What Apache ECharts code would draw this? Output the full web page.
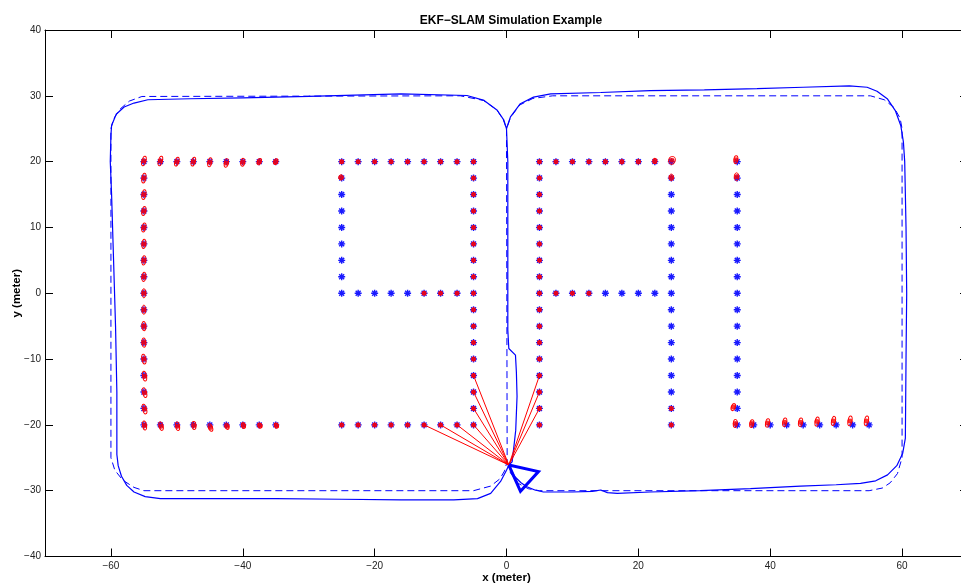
<!DOCTYPE html>
<html lang="en">
<head>
  <meta charset="UTF-8">
  <title>EKF-SLAM Simulation Example</title>
  <script src="https://cdn.jsdelivr.net/npm/echarts@6/dist/echarts.min.js"></script>
  <style>
    html, body { margin: 0; padding: 0; background: #fff; }
    #chart { width: 961px; height: 587px; }
  </style>
</head>
<body>
  <div id="chart"></div>
  <script>
    // 刻度
    const xTicks = [-60, -40, -20, 0, 20, 40, 60]

    // 真实轨迹 (虚线)
    const truePath = [
      [0.1, -25.5], [0.6, -27.3], [1.8, -28.9], [3.3, -29.7], [5, -30], [55, -30], [57, -29.6], [58.2, -28.8],
      [59.3, -27.4], [60, -25], [60, 25], [59.7, 26.6], [58.8, 28.2], [57.3, 29.4], [55.2, 30], [7, 30],
      [4, 29.6], [2, 28.6], [0.6, 26.7], [0, 25], [0.1, -25.5], [-0.3, -27], [-1, -28.2], [-2.4, -29.3],
      [-5, -30], [-55, -30], [-56.5, -29.5], [-58.2, -28.4], [-59.4, -26.9], [-60, -25], [-60, 25],
      [-59.6, 26.5], [-58.6, 28], [-57.2, 29.2], [-55.3, 29.9], [-7, 30], [-3.5, 29.3], [-1.5, 27.9],
      [-0.5, 26.4], [0, 25]
    ]

    // 估计轨迹 (实线)
    const estPath = [
      [0.35, -26.1], [1.2, -27.8], [2.2, -28.8], [3.1, -29.4], [4.3, -29.9], [5.6, -30.2], [10, -30.2],
      [13, -30.1], [14.3, -29.9], [15.3, -30.3], [16.8, -30.4], [21.8, -30.2], [29.4, -30.0], [37, -29.7],
      [44.6, -29.3], [50, -29.1], [53.7, -28.9], [56, -28.5], [57.8, -27.6], [59.2, -26.2], [60.1, -24.3],
      [60.5, -22], [60.6, -10], [60.7, 0], [60.6, 10], [60.4, 20], [60.2, 23], [59.8, 25.5], [59, 27.7],
      [57.8, 29.5], [56.2, 30.7], [54.7, 31.3], [52, 31.5], [45, 31.3], [38, 31.1], [30, 30.9], [21.8, 30.8],
      [14.3, 30.5], [6.7, 30.3], [4.1, 29.8], [2.1, 28.8], [0.6, 26.8], [0, 25],
      [0.2, 20], [0.2, 10], [0.2, 0], [0.2, -5.6], [0.35, -8.4], [1.36, -9.4], [1.5, -12], [1.6, -15.7],
      [1.4, -20.8], [1.1, -23.5], [0.86, -25.6], [0.35, -26.1],
      [0, -26.9], [-0.9, -28.6], [-2.4, -30.4], [-4.4, -31.2], [-8, -31.4], [-16, -31.4], [-25, -31.3],
      [-35, -31.2], [-45, -31.2], [-52.5, -31.2], [-54.8, -30.9], [-56.5, -30.2], [-57.6, -29.2],
      [-58.4, -27.8], [-58.9, -26.2], [-59.1, -24.5], [-59.1, -15], [-59.3, -5], [-59.6, 5], [-59.9, 15],
      [-60.1, 20], [-60, 24], [-59.9, 25.5], [-59.2, 27.2], [-58, 28.3], [-56.5, 28.9], [-54.4, 29.4],
      [-48, 29.55], [-40, 29.7], [-30, 29.9], [-16, 30.3], [-6, 30.05], [-3.4, 29.3], [-1.4, 27.8],
      [-0.4, 26.3], [0, 25]
    ]

    // 真实路标
    const trueLandmarks = [
      // C
      [-55, 20], [-52.5, 20], [-50, 20], [-47.5, 20], [-45, 20], [-42.5, 20], [-40, 20], [-37.5, 20], [-35, 20],
      [-55, 17.5], [-55, 15], [-55, 12.5], [-55, 10], [-55, 7.5], [-55, 5], [-55, 2.5], [-55, 0],
      [-55, -2.5], [-55, -5], [-55, -7.5], [-55, -10], [-55, -12.5], [-55, -15], [-55, -17.5], [-55, -20],
      [-52.5, -20], [-50, -20], [-47.5, -20], [-45, -20], [-42.5, -20], [-40, -20], [-37.5, -20], [-35, -20],
      // 9
      [-25, 20], [-22.5, 20], [-20, 20], [-17.5, 20], [-15, 20], [-12.5, 20], [-10, 20], [-7.5, 20], [-5, 20],
      [-25, 17.5], [-25, 15], [-25, 12.5], [-25, 10], [-25, 7.5], [-25, 5], [-25, 2.5], [-25, 0],
      [-22.5, 0], [-20, 0], [-17.5, 0], [-15, 0], [-12.5, 0], [-10, 0], [-7.5, 0],
      [-5, 17.5], [-5, 15], [-5, 12.5], [-5, 10], [-5, 7.5], [-5, 5], [-5, 2.5], [-5, 0],
      [-5, -2.5], [-5, -5], [-5, -7.5], [-5, -10], [-5, -12.5], [-5, -15], [-5, -17.5], [-5, -20],
      [-25, -20], [-22.5, -20], [-20, -20], [-17.5, -20], [-15, -20], [-12.5, -20], [-10, -20], [-7.5, -20],
      // A
      [5, 20], [7.5, 20], [10, 20], [12.5, 20], [15, 20], [17.5, 20], [20, 20], [22.5, 20], [25, 20],
      [5, 17.5], [5, 15], [5, 12.5], [5, 10], [5, 7.5], [5, 5], [5, 2.5], [5, 0],
      [5, -2.5], [5, -5], [5, -7.5], [5, -10], [5, -12.5], [5, -15], [5, -17.5], [5, -20],
      [25, 17.5], [25, 15], [25, 12.5], [25, 10], [25, 7.5], [25, 5], [25, 2.5], [25, 0],
      [25, -2.5], [25, -5], [25, -7.5], [25, -10], [25, -12.5], [25, -15], [25, -17.5], [25, -20],
      [7.5, 0], [10, 0], [12.5, 0], [15, 0], [17.5, 0], [20, 0], [22.5, 0],
      // L
      [35, 20], [35, 17.5], [35, 15], [35, 12.5], [35, 10], [35, 7.5], [35, 5], [35, 2.5], [35, 0],
      [35, -2.5], [35, -5], [35, -7.5], [35, -10], [35, -12.5], [35, -15], [35, -17.5], [35, -20],
      [37.5, -20], [40, -20], [42.5, -20], [45, -20], [47.5, -20], [50, -20], [52.5, -20], [55, -20]
    ]

    // 估计路标 [x, y, 椭圆半轴x, 椭圆半轴y, 倾角]
    const estLandmarks = [
      // C
      [-55, 20.1, 0.3, 0.75, 15], [-52.5, 20.1, 0.3, 0.75, 15], [-50, 20, 0.3, 0.7, 15], [-47.5, 20, 0.3, 0.7, 15],
      [-45, 19.9, 0.3, 0.7, 10], [-42.5, 19.8, 0.3, 0.65, 10], [-40, 19.9, 0.3, 0.6, 10], [-37.5, 20, 0.3, 0.5, 20],
      [-35, 20, 0.3, 0.45, 20],
      [-55, 17.5, 0.3, 0.75, 10], [-55, 15, 0.3, 0.75, 10], [-55, 12.5, 0.3, 0.7, 10], [-55, 10, 0.3, 0.7, 10],
      [-55, 7.5, 0.3, 0.7, 5], [-55, 5, 0.3, 0.7, 5], [-55, 2.5, 0.3, 0.7, 5], [-55, 0, 0.3, 0.7, 0],
      [-55, -2.5, 0.3, 0.7, 0], [-55, -5, 0.3, 0.7, -5], [-55, -7.5, 0.3, 0.7, -5], [-55, -10, 0.3, 0.75, -10],
      [-54.9, -12.6, 0.3, 0.75, -10], [-54.9, -15.1, 0.3, 0.75, -15], [-54.9, -17.6, 0.3, 0.75, -15],
      [-54.9, -20.1, 0.3, 0.7, -10],
      [-52.4, -20.2, 0.3, 0.65, -15], [-49.9, -20.2, 0.3, 0.65, -10], [-47.4, -20.1, 0.3, 0.6, -5],
      [-44.9, -20.4, 0.3, 0.6, -20], [-42.4, -20.2, 0.3, 0.5, -20], [-39.9, -20.1, 0.3, 0.45, -20],
      [-37.4, -20.1, 0.3, 0.4, -20], [-34.9, -20.1, 0.3, 0.4, -20],
      // 9
      [-25, 20, 0.2, 0.3, 0], [-22.5, 20, 0.2, 0.3, 0], [-20, 20, 0.2, 0.3, 0], [-17.5, 20, 0.2, 0.3, 0],
      [-15, 20, 0.2, 0.3, 0], [-12.5, 20, 0.2, 0.3, 0], [-10, 20, 0.2, 0.3, 0], [-7.5, 20, 0.2, 0.3, 0],
      [-5, 20, 0.2, 0.3, 0], [-25.1, 17.6, 0.35, 0.4, 0],
      [-12.5, 0, 0.2, 0.3, 0], [-10, 0, 0.2, 0.3, 0], [-7.5, 0, 0.2, 0.3, 0],
      [-5, 17.5, 0.2, 0.3, 0], [-5, 15, 0.2, 0.3, 0], [-5, 12.5, 0.2, 0.3, 0], [-5, 10, 0.2, 0.3, 0],
      [-5, 7.5, 0.2, 0.3, 0], [-5, 5, 0.2, 0.3, 0], [-5, 2.5, 0.2, 0.3, 0], [-5, 0, 0.2, 0.3, 0],
      [-5, -2.5, 0.2, 0.3, 0], [-5, -5, 0.2, 0.3, 0], [-5, -7.5, 0.2, 0.3, 0], [-5, -10, 0.2, 0.3, 0],
      [-5, -12.5, 0.2, 0.3, 0], [-5, -15, 0.2, 0.3, 0], [-5, -17.5, 0.2, 0.3, 0], [-5, -20, 0.2, 0.3, 0],
      [-25, -20, 0.2, 0.3, 0], [-22.5, -20, 0.2, 0.3, 0], [-20, -20, 0.2, 0.3, 0], [-17.5, -20, 0.2, 0.3, 0],
      [-15, -20, 0.2, 0.3, 0], [-12.5, -20, 0.2, 0.3, 0], [-10, -20, 0.2, 0.3, 0], [-7.5, -20, 0.2, 0.3, 0],
      // A
      [5, 20, 0.2, 0.3, 0], [7.5, 20, 0.2, 0.3, 0], [10, 20, 0.2, 0.3, 0], [12.5, 20, 0.2, 0.3, 0],
      [15, 20, 0.25, 0.35, 0], [17.5, 20, 0.25, 0.35, 0], [20, 20, 0.3, 0.35, 0], [22.5, 20.1, 0.3, 0.4, 10],
      [25.1, 20.2, 0.5, 0.6, 20], [25, 17.6, 0.35, 0.5, 0],
      [5, 17.5, 0.2, 0.3, 0], [5, 15, 0.2, 0.3, 0], [5, 12.5, 0.2, 0.3, 0], [5, 10, 0.2, 0.3, 0],
      [5, 7.5, 0.2, 0.3, 0], [5, 5, 0.2, 0.3, 0], [5, 2.5, 0.2, 0.3, 0], [5, 0, 0.2, 0.3, 0],
      [5, -2.5, 0.2, 0.3, 0], [5, -5, 0.2, 0.3, 0], [5, -7.5, 0.2, 0.3, 0], [5, -10, 0.2, 0.3, 0],
      [5, -12.5, 0.2, 0.3, 0], [5, -15, 0.2, 0.3, 0], [5, -17.5, 0.2, 0.3, 0], [5, -20, 0.2, 0.3, 0],
      [7.5, 0, 0.2, 0.3, 0], [10, 0, 0.2, 0.3, 0], [12.5, 0, 0.2, 0.3, 0],
      [25, -17.5, 0.2, 0.3, 0], [25, -20, 0.2, 0.3, 0],
      // L
      [34.8, 20.3, 0.3, 0.6, 5], [34.9, 17.7, 0.35, 0.6, 0], [34.4, -17.3, 0.3, 0.55, 20],
      [34.7, -19.8, 0.3, 0.6, 5], [37.2, -19.8, 0.3, 0.6, 10], [39.6, -19.7, 0.3, 0.65, 10],
      [42.2, -19.6, 0.3, 0.65, 10], [44.6, -19.6, 0.3, 0.65, 10], [47.1, -19.5, 0.3, 0.7, 10],
      [49.6, -19.4, 0.3, 0.7, 10], [52.1, -19.4, 0.3, 0.75, 10], [54.6, -19.4, 0.3, 0.75, 10]
    ]

    // 当前观测的路标
    const observed = [
      [-12.5, -20], [-10, -20], [-7.5, -20], [-5, -20], [-5, -17.5], [-5, -15], [-5, -12.5],
      [5, -12.5], [5, -15], [5, -17.5]
    ]

    // 机器人位置与三角形
    const robotPos = [0.35, -26.1]
    const robotShape = [[0.35, -26.1], [4.85, -27.1], [2.12, -30.1], [0.35, -26.1]]

    const FONT = '"Liberation Sans", Arial, Helvetica, sans-serif'
    const minus = v => String(v).replace('-', '\u2212')
    const star = 'path://M-0.2,-1L0.2,-1L0.2,1L-0.2,1Z M-1,-0.2L1,-0.2L1,0.2L-1,0.2Z ' +
      'M-0.56,-0.85L0.85,0.56L0.56,0.85L-0.85,-0.56Z M-0.85,0.56L0.56,-0.85L0.85,-0.56L-0.56,0.85Z'

    const axisBase = {
      type: 'value',
      axisLine: { show: true, onZero: false, lineStyle: { color: '#000', width: 1 } },
      axisTick: { show: true, inside: true, length: 8, lineStyle: { color: '#000', width: 1 } },
      splitLine: { show: false }
    }

    const chart = echarts.init(document.getElementById('chart'))
    chart.setOption({
      animation: false,
      backgroundColor: '#fff',
      title: {
        text: 'EKF\u2212SLAM Simulation Example',
        left: 506,
        top: 10,
        textAlign: 'center',
        textStyle: { fontFamily: FONT, fontSize: 12, fontWeight: 'bold', color: '#000' }
      },
      grid: { left: 45, top: 30, right: -7, bottom: 30.5, outerBoundsMode: 'none' },
      xAxis: [
        Object.assign({}, axisBase, {
          min: -70, max: 70, position: 'bottom',
          axisTick: Object.assign({}, axisBase.axisTick, { customValues: xTicks }),
          axisLabel: { customValues: xTicks, formatter: minus, margin: 5, color: '#222', fontFamily: FONT, fontSize: 10 },
          name: 'x (meter)', nameLocation: 'middle', nameGap: 15, nameMoveOverlap: false,
          nameTextStyle: { fontFamily: FONT, fontSize: 11.5, fontWeight: 'bold', color: '#000' }
        }),
        Object.assign({}, axisBase, {
          min: -70, max: 70, position: 'top',
          axisTick: Object.assign({}, axisBase.axisTick, { customValues: xTicks }),
          axisLabel: { show: false }
        })
      ],
      yAxis: [
        Object.assign({}, axisBase, {
          min: -40, max: 40, interval: 10, position: 'left',
          axisLabel: { formatter: minus, margin: 4, color: '#222', fontFamily: FONT, fontSize: 10 },
          name: 'y (meter)', nameLocation: 'middle', nameGap: 22, nameMoveOverlap: false,
          nameTextStyle: { fontFamily: FONT, fontSize: 11.5, fontWeight: 'bold', color: '#000' }
        }),
        Object.assign({}, axisBase, {
          min: -40, max: 40, interval: 10, position: 'right',
          axisLabel: { show: false }
        })
      ],
      series: [
        {
          name: 'true path', type: 'line', data: truePath, symbol: 'none', z: 2,
          lineStyle: { color: '#0000ff', width: 1, type: [7, 4] }
        },
        {
          name: 'estimated path', type: 'line', data: estPath, symbol: 'none', z: 2,
          lineStyle: { color: '#0000ff', width: 1.2 }
        },
        {
          name: 'landmarks', type: 'scatter', data: trueLandmarks, symbol: star, symbolSize: 7, z: 3,
          itemStyle: { color: '#0000ff', opacity: 0.9 }
        },
        {
          name: 'covariance', type: 'custom', data: estLandmarks, z: 4,
          encode: { x: 0, y: 1 },
          renderItem: function (params, api) {
            const c = api.coord([api.value(0), api.value(1)])
            const s = api.size([api.value(2), api.value(3)])
            return {
              type: 'ellipse',
              x: c[0],
              y: c[1],
              rotation: -api.value(4) * Math.PI / 180,
              shape: { cx: 0, cy: 0, rx: s[0], ry: s[1] },
              style: { fill: 'none', stroke: '#ff0000', lineWidth: 1 }
            }
          }
        },
        {
          name: 'estimates', type: 'scatter', z: 5,
          data: estLandmarks.map(p => [p[0], p[1]]),
          symbol: 'circle', symbolSize: 5,
          itemStyle: { color: '#ff0000' }
        },
        {
          name: 'observations', type: 'lines', coordinateSystem: 'cartesian2d', z: 6,
          data: observed.map(p => ({ coords: [robotPos, p] })),
          lineStyle: { color: '#ff0000', width: 1, opacity: 1 }
        },
        {
          name: 'vehicle', type: 'line', data: robotShape, symbol: 'none', z: 7,
          lineStyle: { color: '#0000ff', width: 3, join: 'miter' }
        }
      ]
    })
  </script>
</body>
</html>
